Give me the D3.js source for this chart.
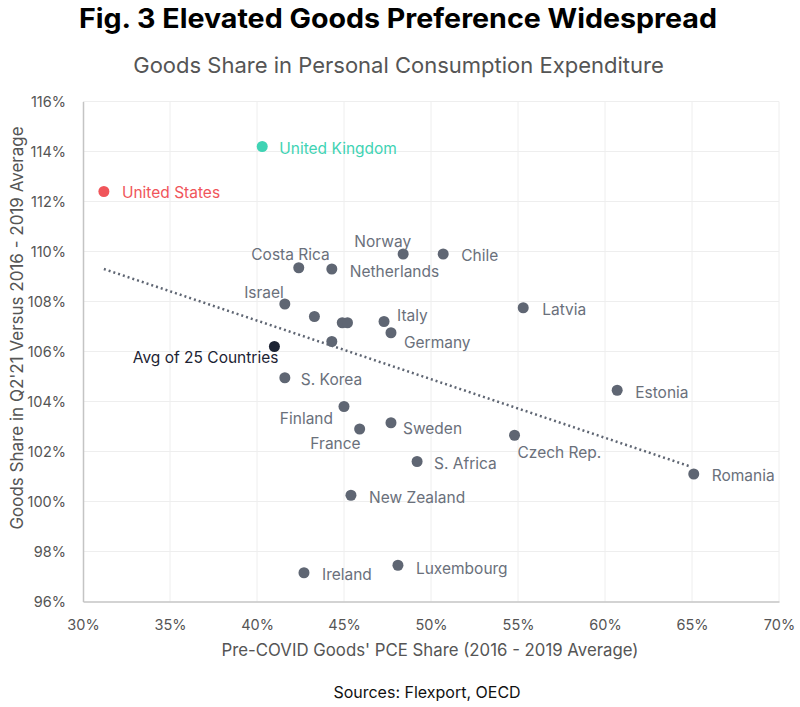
<!DOCTYPE html>
<html>
<head>
<meta charset="utf-8">
<script src="https://cdn.jsdelivr.net/npm/d3@7"></script>
<style>
body{margin:0;background:#fff;}
svg text{font-family:Inter,"Noto Sans",sans-serif;}
</style>
</head>
<body>
<div id="chart"></div>
<script>
//chart values
var countries = ['United States','United Kingdom','Costa Rica','Netherlands','Norway','Chile','Israel','','','',
	'Italy','Germany','','Avg of 25 Countries','S. Korea','Finland','France','Sweden','S. Africa','New Zealand',
	'Ireland','Luxembourg','Latvia','Estonia','Czech Rep.','Romania'];
var preCovidShare = [31.2,40.3,42.4,44.3,48.4,50.7,41.6,43.3,44.9,45.2,
	47.3,47.7,44.3,41.0,41.6,45.0,45.9,47.7,49.2,45.4,
	42.7,48.1,55.3,60.7,54.8,65.1];
var q221Share = [112.4,114.2,109.35,109.3,109.9,109.9,107.9,107.4,107.15,107.15,
	107.2,106.75,106.4,106.2,104.95,103.8,102.9,103.15,101.6,100.25,
	97.15,97.45,107.75,104.45,102.65,101.1];
var trendX = [31.2,64.9],
	trendY = [109.3,101.4];
var xTicks = [30,35,40,45,50,55,60,65,70],
	yTicks = [96,98,100,102,104,106,108,110,112,114,116];

//label placement (pixels from the dot), colours
var labelPos = {
	'United States':[18,1,'start'],'United Kingdom':[17,2,'start'],'Costa Rica':[31,-13,'end'],
	'Netherlands':[18,3,'start'],'Norway':[8,-12,'end'],'Chile':[18,2,'start'],'Israel':[-1,-11,'end'],
	'Italy':[13,-6,'start'],'Germany':[13,10,'start'],'Avg of 25 Countries':[4,11,'end'],
	'S. Korea':[16,2,'start'],'Finland':[-11,12,'end'],'France':[1,15,'end'],'Sweden':[12,6,'start'],
	'S. Africa':[17,2,'start'],'New Zealand':[18,2,'start'],'Ireland':[18,2,'start'],'Luxembourg':[18,3,'start'],
	'Latvia':[19,2,'start'],'Estonia':[18,2,'start'],'Czech Rep.':[3,17,'start'],'Romania':[18,2,'start']
};
var special = {'United States':'#f0555a','United Kingdom':'#3fd3b4','Avg of 25 Countries':'#1c2333'};
var dotGrey = '#5f6673', textGrey = '#6a707b';

var data = countries.map(function(c,i){
	return {name:c,x:preCovidShare[i],y:q221Share[i]};
});

var W = 800, H = 707,
	m = {t:101.5,r:21,b:105.5,l:83},
	w = W - m.l - m.r,
	h = H - m.t - m.b;

var svg = d3.select('#chart').append('svg')
	.attr('width',W).attr('height',H);

svg.append('text')
	.attr('x',79).attr('y',28)
	.attr('textLength',638).attr('lengthAdjust','spacingAndGlyphs')
	.style('font-weight','700').style('font-size','27px').style('fill','#000')
	.text('Fig. 3 Elevated Goods Preference Widespread');

svg.append('text')
	.attr('x',398.5).attr('y',73)
	.attr('text-anchor','middle')
	.style('font-size','22px').style('fill','#555')
	.text('Goods Share in Personal Consumption Expenditure');

var plot = svg.append('g')
	.attr('transform','translate('+m.l+','+m.t+')');

var x = d3.scaleLinear().domain([30,70]).range([0,w]),
	y = d3.scaleLinear().domain([96,116]).range([h,0]);

//grid
plot.append('g').selectAll('line').data(xTicks.slice(1)).enter().append('line')
	.attr('x1',function(d){return x(d)}).attr('x2',function(d){return x(d)})
	.attr('y1',0).attr('y2',h)
	.style('stroke','#eeeeee').style('stroke-width',1);
plot.append('g').selectAll('line').data(yTicks.slice(1)).enter().append('line')
	.attr('x1',0).attr('x2',w)
	.attr('y1',function(d){return y(d)}).attr('y2',function(d){return y(d)})
	.style('stroke','#eeeeee').style('stroke-width',1);

//axes
var xAxis = plot.append('g')
	.attr('transform','translate(0,'+h+')')
	.call(d3.axisBottom(x).tickValues(xTicks).tickSize(0).tickPadding(18.5).tickFormat(function(d){return d+'%'}));
var yAxis = plot.append('g')
	.call(d3.axisLeft(y).tickValues(yTicks).tickSize(0).tickPadding(17).tickFormat(function(d){return d+'%'}));
[xAxis,yAxis].forEach(function(a){
	a.select('.domain').style('stroke','#c4c4c4').style('stroke-width',1.5);
	a.selectAll('text').style('font-family','Inter,sans-serif').style('font-size','14.5px').style('fill','#555');
});

svg.append('text')
	.attr('x',430).attr('y',656)
	.attr('text-anchor','middle')
	.style('font-size','16.8px').style('fill','#555')
	.text("Pre-COVID Goods' PCE Share (2016 - 2019 Average)");

svg.append('text')
	.attr('transform','translate(23,328) rotate(-90)')
	.attr('text-anchor','middle')
	.style('font-size','17px').style('fill','#555')
	.text("Goods Share in Q2'21 Versus 2016 - 2019 Average");

svg.append('text')
	.attr('x',427).attr('y',698)
	.attr('text-anchor','middle')
	.style('font-size','16px').style('fill','#111')
	.text('Sources: Flexport, OECD');

//trend line
plot.append('path').datum(d3.zip(trendX,trendY))
	.attr('d',d3.line().x(function(d){return x(d[0])}).y(function(d){return y(d[1])}))
	.style('fill','none').style('stroke','#5f6673').style('stroke-width',2.5)
	.style('stroke-dasharray','2 3');

//dots and labels
plot.selectAll('.dot').data(data).enter().append('circle')
	.attr('class','dot')
	.attr('cx',function(d){return x(d.x)}).attr('cy',function(d){return y(d.y)})
	.attr('r',5.5)
	.style('fill',function(d){return special[d.name]||dotGrey});

plot.selectAll('.lbl').data(data.filter(function(d){return d.name})).enter().append('text')
	.attr('class','lbl')
	.attr('x',function(d){return x(d.x)+labelPos[d.name][0]})
	.attr('y',function(d){return y(d.y)+labelPos[d.name][1]})
	.attr('dy','0.35em')
	.attr('text-anchor',function(d){return labelPos[d.name][2]})
	.style('font-size','15.5px')
	.style('fill',function(d){return special[d.name]||textGrey})
	.text(function(d){return d.name});
</script>
</body>
</html>
